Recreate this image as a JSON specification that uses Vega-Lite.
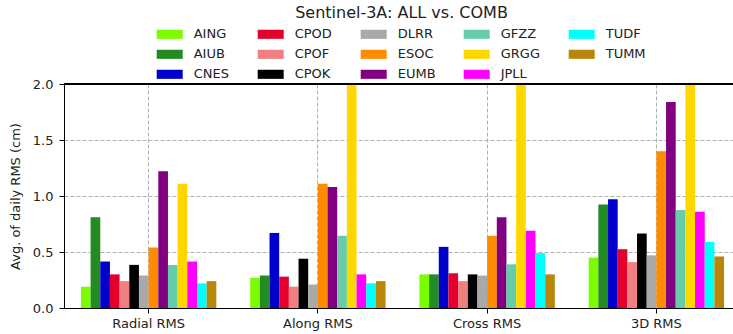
{
  "$schema": "https://vega.github.io/schema/vega-lite/v6.json",
  "width": 669,
  "height": 224,
  "autosize": {"type": "none"},
  "padding": {"left": 64, "top": 84, "right": 0, "bottom": 26},
  "title": {
    "text": "Sentinel-3A: ALL vs. COMB",
    "font": "DejaVu Sans",
    "fontSize": 16,
    "fontWeight": "normal",
    "color": "#222222",
    "anchor": "middle",
    "frame": "group",
    "baseline": "alphabetic",
    "offset": -12.5,
    "dx": 3
  },
  "config": {
    "view": {"stroke": null},
    "font": "DejaVu Sans",
    "axis": {
      "labelFont": "DejaVu Sans",
      "labelFontSize": 13,
      "labelColor": "#222222",
      "titleFont": "DejaVu Sans",
      "titleFontSize": 13,
      "titleFontWeight": "normal",
      "titleColor": "#222222",
      "domainColor": "#000000",
      "domainWidth": 1,
      "tickColor": "#000000",
      "tickWidth": 1,
      "tickSize": 5,
      "grid": true,
      "gridColor": "#b0b0b0",
      "gridDash": [4, 2],
      "gridWidth": 1
    },
    "legend": {
      "labelFont": "DejaVu Sans",
      "labelFontSize": 13,
      "labelColor": "#222222"
    }
  },
  "data": {
    "values": [
      {"component": "Radial RMS", "ac": "AING", "rms": 0.19},
      {"component": "Radial RMS", "ac": "AIUB", "rms": 0.81},
      {"component": "Radial RMS", "ac": "CNES", "rms": 0.415},
      {"component": "Radial RMS", "ac": "CPOD", "rms": 0.30},
      {"component": "Radial RMS", "ac": "CPOF", "rms": 0.24},
      {"component": "Radial RMS", "ac": "CPOK", "rms": 0.385},
      {"component": "Radial RMS", "ac": "DLRR", "rms": 0.29},
      {"component": "Radial RMS", "ac": "ESOC", "rms": 0.54},
      {"component": "Radial RMS", "ac": "EUMB", "rms": 1.22},
      {"component": "Radial RMS", "ac": "GFZZ", "rms": 0.385},
      {"component": "Radial RMS", "ac": "GRGG", "rms": 1.11},
      {"component": "Radial RMS", "ac": "JPLL", "rms": 0.415},
      {"component": "Radial RMS", "ac": "TUDF", "rms": 0.22},
      {"component": "Radial RMS", "ac": "TUMM", "rms": 0.24},

      {"component": "Along RMS", "ac": "AING", "rms": 0.27},
      {"component": "Along RMS", "ac": "AIUB", "rms": 0.29},
      {"component": "Along RMS", "ac": "CNES", "rms": 0.67},
      {"component": "Along RMS", "ac": "CPOD", "rms": 0.28},
      {"component": "Along RMS", "ac": "CPOF", "rms": 0.19},
      {"component": "Along RMS", "ac": "CPOK", "rms": 0.44},
      {"component": "Along RMS", "ac": "DLRR", "rms": 0.21},
      {"component": "Along RMS", "ac": "ESOC", "rms": 1.11},
      {"component": "Along RMS", "ac": "EUMB", "rms": 1.08},
      {"component": "Along RMS", "ac": "GFZZ", "rms": 0.645},
      {"component": "Along RMS", "ac": "GRGG", "rms": 2.6},
      {"component": "Along RMS", "ac": "JPLL", "rms": 0.30},
      {"component": "Along RMS", "ac": "TUDF", "rms": 0.22},
      {"component": "Along RMS", "ac": "TUMM", "rms": 0.24},

      {"component": "Cross RMS", "ac": "AING", "rms": 0.30},
      {"component": "Cross RMS", "ac": "AIUB", "rms": 0.30},
      {"component": "Cross RMS", "ac": "CNES", "rms": 0.546},
      {"component": "Cross RMS", "ac": "CPOD", "rms": 0.31},
      {"component": "Cross RMS", "ac": "CPOF", "rms": 0.24},
      {"component": "Cross RMS", "ac": "CPOK", "rms": 0.30},
      {"component": "Cross RMS", "ac": "DLRR", "rms": 0.29},
      {"component": "Cross RMS", "ac": "ESOC", "rms": 0.645},
      {"component": "Cross RMS", "ac": "EUMB", "rms": 0.81},
      {"component": "Cross RMS", "ac": "GFZZ", "rms": 0.39},
      {"component": "Cross RMS", "ac": "GRGG", "rms": 2.4},
      {"component": "Cross RMS", "ac": "JPLL", "rms": 0.69},
      {"component": "Cross RMS", "ac": "TUDF", "rms": 0.49},
      {"component": "Cross RMS", "ac": "TUMM", "rms": 0.30},

      {"component": "3D RMS", "ac": "AING", "rms": 0.45},
      {"component": "3D RMS", "ac": "AIUB", "rms": 0.925},
      {"component": "3D RMS", "ac": "CNES", "rms": 0.97},
      {"component": "3D RMS", "ac": "CPOD", "rms": 0.525},
      {"component": "3D RMS", "ac": "CPOF", "rms": 0.41},
      {"component": "3D RMS", "ac": "CPOK", "rms": 0.665},
      {"component": "3D RMS", "ac": "DLRR", "rms": 0.47},
      {"component": "3D RMS", "ac": "ESOC", "rms": 1.40},
      {"component": "3D RMS", "ac": "EUMB", "rms": 1.84},
      {"component": "3D RMS", "ac": "GFZZ", "rms": 0.875},
      {"component": "3D RMS", "ac": "GRGG", "rms": 3.6},
      {"component": "3D RMS", "ac": "JPLL", "rms": 0.86},
      {"component": "3D RMS", "ac": "TUDF", "rms": 0.59},
      {"component": "3D RMS", "ac": "TUMM", "rms": 0.46}
    ]
  },
  "layer": [
    {
      "mark": {"type": "bar"},
      "encoding": {
        "x": {
          "field": "component",
          "type": "nominal",
          "sort": ["Radial RMS", "Along RMS", "Cross RMS", "3D RMS"],
          "scale": {"range": [0, 677], "paddingInner": 0.2, "paddingOuter": 0.1},
          "axis": {"title": null, "labelAngle": 0, "labelPadding": 4, "domain": true}
        },
        "xOffset": {
          "field": "ac",
          "type": "nominal",
          "scale": {
            "domain": ["AING", "AIUB", "CNES", "CPOD", "CPOF", "CPOK", "DLRR", "ESOC", "EUMB", "GFZZ", "GRGG", "JPLL", "TUDF", "TUMM"],
            "paddingInner": 0,
            "paddingOuter": 0
          }
        },
        "y": {
          "field": "rms",
          "type": "quantitative",
          "scale": {"domain": [0, 2], "nice": false, "zero": true, "clamp": true},
          "axis": {
            "title": "Avg. of daily RMS (cm)",
            "values": [0, 0.5, 1, 1.5, 2],
            "format": ".1f",
            "labelPadding": 6,
            "titlePadding": 10
          }
        },
        "color": {
          "field": "ac",
          "type": "nominal",
          "scale": {
            "domain": ["AING", "AIUB", "CNES", "CPOD", "CPOF", "CPOK", "DLRR", "ESOC", "EUMB", "GFZZ", "GRGG", "JPLL", "TUDF", "TUMM"],
            "range": ["#7CFC00", "#228B22", "#0000CD", "#E4002B", "#F08080", "#000000", "#A9A9A9", "#FF8C00", "#800080", "#66CDAA", "#FFD700", "#FF00FF", "#00FFFF", "#B8860B"]
          },
          "legend": {
            "title": null,
            "orient": "none",
            "legendX": 92.7,
            "legendY": -62.7,
            "columns": 5,
            "columnPadding": 28,
            "rowPadding": 0,
            "padding": 0,
            "symbolType": "M-1,-0.35H1V0.35H-1Z",
            "symbolSize": 676,
            "symbolStrokeWidth": 0,
            "labelOffset": 11
          }
        }
      }
    },
    {
      "mark": {"type": "rule", "color": "#000000", "strokeWidth": 1},
      "encoding": {"y": {"datum": 2}}
    }
  ]
}
